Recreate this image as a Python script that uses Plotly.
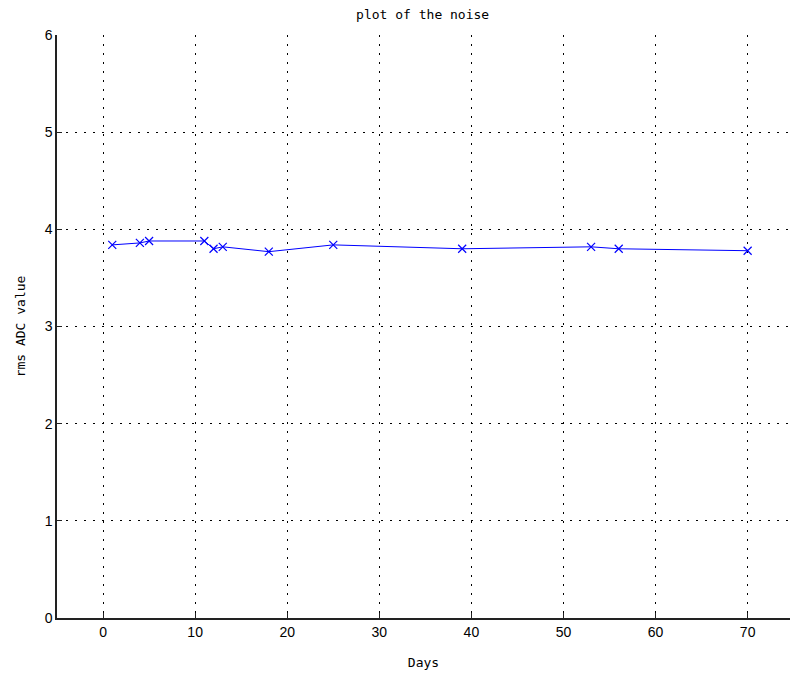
import plotly.graph_objects as go

days = [1, 4, 5, 11, 12, 13, 18, 25, 39, 53, 56, 70]
rms_adc = [3.84, 3.86, 3.88, 3.88, 3.80, 3.82, 3.77, 3.84, 3.80, 3.82, 3.80, 3.78]
x_ticks = [0, 10, 20, 30, 40, 50, 60, 70]
y_ticks = [0, 1, 2, 3, 4, 5, 6]

font_family = "DejaVu Sans Mono"

fig = go.Figure()
fig.add_trace(go.Scatter(
    x=days, y=rms_adc, mode="lines+markers",
    line=dict(color="#0000FF", width=1),
    marker=dict(symbol="x-thin", size=8, line=dict(color="#0000FF", width=1.2), color="#0000FF"),
    showlegend=False,
))

axis_common = dict(
    showgrid=True, gridcolor="black", griddash="2px,7px", gridwidth=1,
    zeroline=False, showline=True, linecolor="#222", linewidth=1.5,
    ticks="inside", ticklen=5, tickcolor="#222",
    tickfont=dict(family="Liberation Sans", size=14, color="black"),
)

fig.update_layout(
    width=790, height=675,
    margin=dict(l=57, r=0, t=35, b=57),
    paper_bgcolor="white", plot_bgcolor="white",
    title=dict(text="plot of the noise", x=0.535, xanchor="center", y=0.979, yanchor="middle",
               font=dict(family=font_family, size=13, color="black")),
    xaxis=dict(range=[-5, 74.6], tickvals=x_ticks, **axis_common,
               title=dict(text="Days", font=dict(family=font_family, size=13, color="black"), standoff=19)),
    yaxis=dict(range=[0, 6], tickvals=y_ticks, **axis_common,
               title=dict(text="rms ADC value", font=dict(family=font_family, size=13, color="black"), standoff=16)),
    xaxis2=dict(range=[-5, 74.6], tickvals=x_ticks, overlaying="x", side="top", matches="x",
                showticklabels=False, showgrid=False, zeroline=False, showline=True,
                linecolor="#222", linewidth=1.5, ticks="inside", ticklen=5, tickcolor="#222"),
)

fig.write_html("out.html", config={"displayModeBar": False},
               post_script="document.body.style.margin='0';document.body.style.overflow='hidden';")
